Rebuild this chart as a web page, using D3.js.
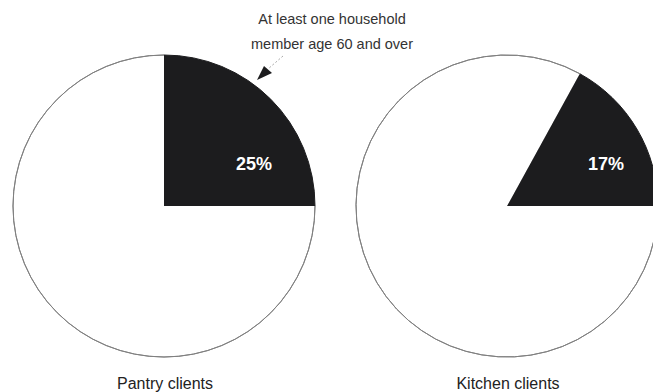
<!DOCTYPE html>
<html>
<head>
<meta charset="utf-8">
<script src="https://cdn.jsdelivr.net/npm/d3@7"></script>
<style>
  html, body { margin: 0; padding: 0; background: #fff; }
  svg { display: block; }
  text { font-family: "Liberation Sans", Arial, sans-serif; }
</style>
</head>
<body>
<script>
// Share of clients with at least one household member age 60 and over
const groups = ["Pantry clients", "Kitchen clients"];
const seniorShare = [25, 17];
const annotationLines = ["At least one household", "member age 60 and over"];

const width = 653, height = 392;
const radius = 151;
const centers = [[164, 206], [507, 206]];
const labelOffsets = [[90, -41], [99, -41]];

const svg = d3.select("body").append("svg")
  .attr("width", width)
  .attr("height", height);

const arc = d3.arc().innerRadius(0).outerRadius(radius);
const rim = d3.arc().innerRadius(radius).outerRadius(radius);

groups.forEach((name, i) => {
  const share = seniorShare[i];
  // the highlighted slice ends at 3 o'clock, running clockwise
  const endAngle = Math.PI / 2;
  const startAngle = endAngle - (share / 100) * 2 * Math.PI;
  const slices = d3.pie().sort(null).value(d => d.v)
    .startAngle(startAngle).endAngle(startAngle + 2 * Math.PI)(
      [{ k: "senior", v: share }, { k: "other", v: 100 - share }]);

  const g = svg.append("g").attr("transform", `translate(${centers[i][0]},${centers[i][1]})`);

  g.selectAll("path.slice")
    .data(slices)
    .join("path")
    .attr("class", "slice")
    .attr("d", arc)
    .attr("fill", d => d.data.k === "senior" ? "#1c1c1e" : "#ffffff")
    .attr("stroke", d => d.data.k === "senior" ? "#1c1c1e" : "none");

  // thin outline around the light slice
  g.append("path")
    .attr("d", rim(slices[1]))
    .attr("fill", "none")
    .attr("stroke", "#808080")
    .attr("stroke-width", 1);

  // percentage label inside the dark slice
  g.append("text")
    .attr("x", labelOffsets[i][0])
    .attr("y", labelOffsets[i][1])
    .attr("text-anchor", "middle")
    .attr("dominant-baseline", "middle")
    .attr("fill", "#ffffff")
    .attr("font-weight", "bold")
    .attr("font-size", 18)
    .text(share + "%");

  g.append("text")
    .attr("x", 1)
    .attr("y", radius + 32)
    .attr("text-anchor", "middle")
    .attr("fill", "#222")
    .attr("font-size", 16)
    .text(name);
});

// annotation pointing at the pantry slice
const ann = svg.append("g");
ann.selectAll("text")
  .data(annotationLines)
  .join("text")
  .attr("x", 332)
  .attr("y", (d, i) => 24 + i * 25)
  .attr("text-anchor", "middle")
  .attr("fill", "#333")
  .attr("font-size", 14.5)
  .text(d => d);

ann.append("line")
  .attr("x1", 283).attr("y1", 56)
  .attr("x2", 268).attr("y2", 69)
  .attr("stroke", "#aaa")
  .attr("stroke-width", 1)
  .attr("stroke-dasharray", "2,2");

ann.append("path")
  .attr("d", "M257,80 L264,66 L272,73 Z")
  .attr("fill", "#1c1c1e");
</script>
</body>
</html>
